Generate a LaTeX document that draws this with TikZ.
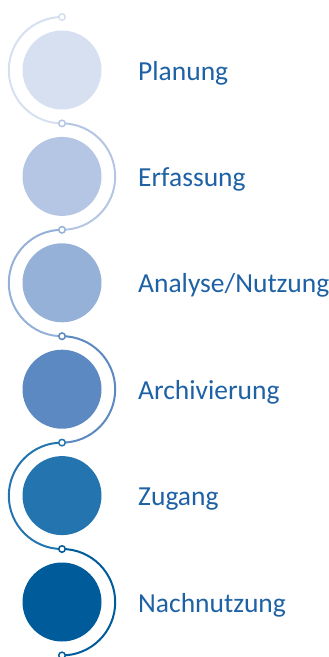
\documentclass[tikz,border=0pt]{standalone}
\usepackage{fontspec}
\setmainfont{Carlito}
\usetikzlibrary{backgrounds}
\definecolor{cA}{RGB}{214,224,240}
\definecolor{cB}{RGB}{180,198,227}
\definecolor{cC}{RGB}{149,177,216}
\definecolor{cD}{RGB}{92,137,193}
\definecolor{cE}{RGB}{36,116,176}
\definecolor{cF}{RGB}{0,91,155}
\definecolor{txt}{RGB}{30,98,165}
\tikzset{
  bigdot/.style={circle, minimum size=79pt, inner sep=0pt, draw=none},
  joint/.style={circle, minimum size=6.5pt, inner sep=0pt, line width=1.5pt, fill=white},
  lbl/.style={anchor=base west, inner sep=0pt, text=txt, font=\fontsize{27.5pt}{30pt}\selectfont},
  road/.style={line width=2pt}
}
\begin{document}
\begin{tikzpicture}[x=1pt,y=-1pt]
\useasboundingbox (0,0) rectangle (329,657);
% big circles
\node[bigdot, fill=cA] (c1) at (62,{70+106.4*0}) {};
\node[bigdot, fill=cB] (c2) at (62,{70+106.4*1}) {};
\node[bigdot, fill=cC] (c3) at (62,{70+106.4*2}) {};
\node[bigdot, fill=cD] (c4) at (62,{70+106.4*3}) {};
\node[bigdot, fill=cE] (c5) at (62,{70+106.4*4}) {};
\node[bigdot, fill=cF] (c6) at (62,{70+106.4*5}) {};
% labels
\node[lbl] (t1) at (138,{80+106.4*0}) {Planung};
\node[lbl] (t2) at (138,{80+106.4*1}) {Erfassung};
\node[lbl] (t3) at (138,{80+106.4*2}) {Analyse/Nutzung};
\node[lbl] (t4) at (138,{80+106.4*3}) {Archivierung};
\node[lbl] (t5) at (138,{80+106.4*4}) {Zugang};
\node[lbl] (t6) at (138,{80+106.4*5}) {Nachnutzung};
% joints
\node[joint, draw=cA] (n0) at (62,{17+106.4*0}) {};
\node[joint, draw=cB] (n1) at (62,{17+106.4*1}) {};
\node[joint, draw=cC] (n2) at (62,{17+106.4*2}) {};
\node[joint, draw=cD] (n3) at (62,{17+106.4*3}) {};
\node[joint, draw=cE] (n4) at (62,{17+106.4*4}) {};
\node[joint, draw=cF] (n5) at (62,{17+106.4*5}) {};
\node[joint, draw=cF] (n6) at (62,{17+106.4*6}) {};
\begin{scope}[on background layer]
\draw[road, cA] (n0.center) arc[start angle=-90, end angle=-270, radius=53.2];
\draw[road, cB] (n1.center) arc[start angle=-90, end angle=90, radius=53.2];
\draw[road, cC] (n2.center) arc[start angle=-90, end angle=-270, radius=53.2];
\draw[road, cD] (n3.center) arc[start angle=-90, end angle=90, radius=53.2];
\draw[road, cE] (n4.center) arc[start angle=-90, end angle=-270, radius=53.2];
\draw[road, cF] (n5.center) arc[start angle=-90, end angle=90, radius=53.2];
\end{scope}
\end{tikzpicture}
\end{document}
